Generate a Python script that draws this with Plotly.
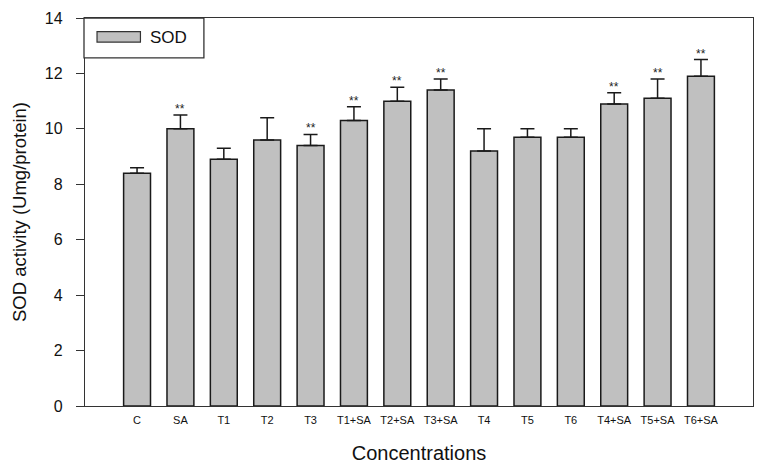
import plotly.graph_objects as go

categories = ["C", "SA", "T1", "T2", "T3", "T1+SA", "T2+SA", "T3+SA",
              "T4", "T5", "T6", "T4+SA", "T5+SA", "T6+SA"]
sod_values = [8.4, 10.0, 8.9, 9.6, 9.4, 10.3, 11.0, 11.4, 9.2, 9.7, 9.7, 10.9, 11.1, 11.9]
sod_errors = [0.2, 0.5, 0.4, 0.8, 0.4, 0.5, 0.5, 0.4, 0.8, 0.3, 0.3, 0.4, 0.7, 0.6]
significant = [False, True, False, False, True, True, True, True,
               False, False, False, True, True, True]
y_ticks = [0, 2, 4, 6, 8, 10, 12, 14]

FONT = "Liberation Sans, Arial, sans-serif"

fig = go.Figure()
fig.add_trace(go.Bar(
    x=categories, y=sod_values, name="SOD",
    width=0.62,
    marker=dict(color="#c0c0c0", line=dict(color="#1a1a1a", width=1.5)),
    error_y=dict(type="data", array=sod_errors, arrayminus=[0] * len(sod_errors),
                 symmetric=False, color="#1a1a1a", thickness=1.5, width=7),
    showlegend=False,
))

for c, v, e, s in zip(categories, sod_values, sod_errors, significant):
    if s:
        fig.add_annotation(x=c, y=v + e, text="**", showarrow=False,
                           yanchor="bottom", yshift=-3,
                           font=dict(family=FONT, size=12, color="#222"))

# legend box drawn manually (top-left, overlapping the frame)
fig.add_shape(type="rect", xref="paper", yref="paper",
              x0=-0.0015, x1=0.178, y0=0.897, y1=1.0,
              line=dict(color="#333", width=1.3), fillcolor="white")
fig.add_shape(type="rect", xref="paper", yref="paper",
              x0=0.018, x1=0.083, y0=0.938, y1=0.965,
              line=dict(color="#333", width=1.2), fillcolor="#c0c0c0")
fig.add_annotation(xref="paper", yref="paper", x=0.095, y=0.951, text="SOD",
                   showarrow=False, xanchor="left", yanchor="middle",
                   font=dict(family=FONT, size=17, color="#111"))

fig.update_layout(
    width=762, height=469,
    margin=dict(l=77, r=17, t=10, b=71, autoexpand=False),
    paper_bgcolor="white", plot_bgcolor="white",
    font=dict(family=FONT, color="#111"),
    bargap=0.38,
)
fig.update_xaxes(
    type="category", range=[-1.2, 14.2], automargin=False,
    showline=True, linecolor="#333", linewidth=1.3, mirror=True,
    ticks="", showgrid=False, ticklabelstandoff=4,
    tickfont=dict(size=11, family=FONT),
    title=dict(text="Concentrations", font=dict(size=20, family=FONT), standoff=20),
)
fig.update_yaxes(
    range=[0, 14], tickvals=y_ticks, automargin=False,
    showline=True, linecolor="#333", linewidth=1.3, mirror=True,
    ticks="outside", ticklen=8, tickwidth=1.2, tickcolor="#333",
    showgrid=False, zeroline=False, ticklabelstandoff=10,
    ticklabeloverflow="allow",
    tickfont=dict(size=16, family=FONT),
    title=dict(text="SOD activity (Umg/protein)", font=dict(size=18.5, family=FONT), standoff=13),
)

fig.write_html("out.html")
